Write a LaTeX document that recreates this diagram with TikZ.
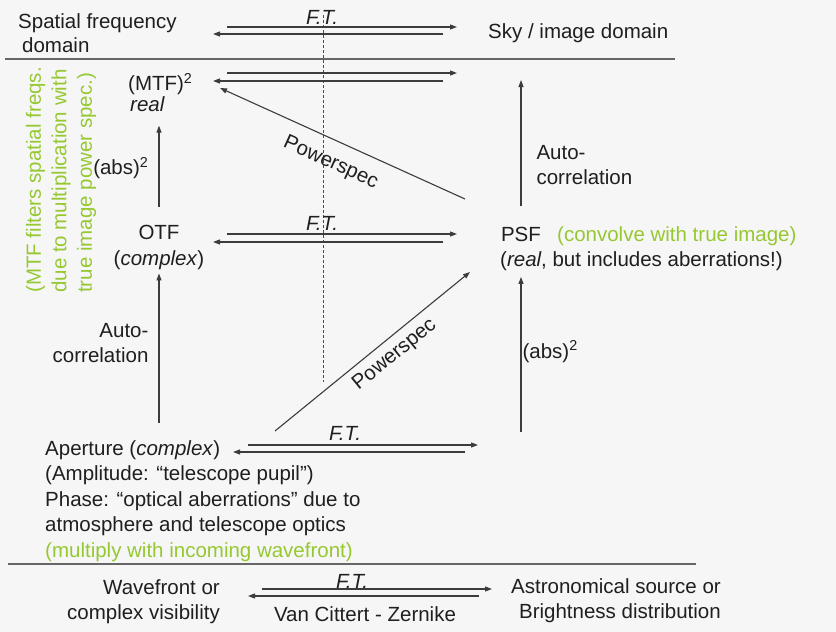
\documentclass[tikz,border=0pt]{standalone}
\usepackage{fontspec}
\setmainfont{Liberation Sans}
\usetikzlibrary{arrows.meta}
\definecolor{bgcol}{RGB}{246,246,246}
\definecolor{lncol}{RGB}{60,60,60}
\definecolor{grn}{RGB}{150,200,50}
\tikzset{
 txt/.style={inner sep=0pt, font=\fontsize{20.5}{25.5}\selectfont, text=black!88},
 ar/.style={-{Triangle[length=7pt,width=5pt]}, draw=lncol, line width=1.1pt},
 arl/.style={ar, {Triangle[length=7pt,width=5pt]}-},
 sep/.style={draw=black!60, line width=1.4pt},
}
\begin{document}
\begin{tikzpicture}[x=1pt,y=-1pt]
 \fill[bgcol] (0,0) rectangle (836,632);
 \useasboundingbox (0,0) rectangle (836,632);

 \draw[sep] (5,59) -- (675,59);
 \draw[sep] (8,564) -- (696,564);
 \draw[black!70, dash pattern=on 3pt off 2pt, line width=0.8pt] (323,15) -- (323,382);

 \node[txt, anchor=north west, align=left] (freq) at (18,13) {Spatial frequency\\[-1pt]\hspace*{4pt}domain};
 \node[txt, anchor=base west] (sky) at (488,38) {Sky / image domain};
 \node[txt, anchor=base] (ft1) at (322,24) {\textit{F.T.}};

 \node[txt, anchor=north west, align=left] (mtf) at (128,73) {(MTF)\textsuperscript{2}\\[-5pt]\hspace*{2pt}\textit{real}};
 \node[txt, anchor=north, align=center] (otf) at (159,225) {OTF\\(\textit{complex})};
 \node[txt, anchor=base] (ft2) at (322,230) {\textit{F.T.}};
 \node[txt, anchor=base] (psf) at (521,241) {PSF};
 \node[txt, anchor=base west, text=grn] (conv) at (557,241) {(convolve with true image)};
 \node[txt, anchor=base west] (psfreal) at (500,266.5) {(\textit{real}, but includes aberrations!)};
 \node[txt, text=grn, rotate=90, align=left] (mtfnote) at (61,180) {(MTF filters spatial freqs.\\due to multiplication with\\true image power spec.)};

 \node[txt, anchor=north west, align=left] (aper) at (45,440) {Aperture (\textit{complex})\\(Amplitude: “telescope pupil”)\\Phase: “optical aberrations” due to\\atmosphere and telescope optics\\\textcolor{grn}{(multiply with incoming wavefront)}};
 \node[txt, anchor=base] (ft3) at (345,440) {\textit{F.T.}};

 \node[txt, anchor=north east, align=right] (wave) at (220,579) {Wavefront or\\complex visibility};
 \node[txt, anchor=north east, align=right] (astro) at (721,578) {Astronomical source or\\Brightness distribution};
 \node[txt, anchor=base] (ft4) at (352,588) {\textit{F.T.}};
 \node[txt, anchor=base] (vcz) at (365,621) {Van Cittert - Zernike};

 \coordinate (t1) at (227,27);  \coordinate (t2) at (457,27);
 \coordinate (t3) at (443,34);  \coordinate (t4) at (213,34);
 \coordinate (m1) at (227,73);  \coordinate (m2) at (457,73);
 \coordinate (m3) at (443,81);  \coordinate (m4) at (213,81);
 \coordinate (o1) at (227,234); \coordinate (o2) at (457,234);
 \coordinate (o3) at (443,242); \coordinate (o4) at (213,242);
 \coordinate (a1) at (248,445); \coordinate (a2) at (478,445);
 \coordinate (a3) at (465,452); \coordinate (a4) at (233,452);
 \coordinate (w1) at (262,589); \coordinate (w2) at (492,589);
 \coordinate (w3) at (479,596); \coordinate (w4) at (248,596);
 \coordinate (pw1a) at (220,88);  \coordinate (pw1b) at (465,199);
 \coordinate (pw2a) at (275,431); \coordinate (pw2b) at (470,272);
 \coordinate (skyin) at (521,80);
 \coordinate (psfin) at (521,432);

 \draw[ar] (t1) -- (t2);  \draw[ar] (t3) -- (t4);
 \draw[ar] (m1) -- (m2);  \draw[ar] (m3) -- (m4);
 \draw[ar] (o1) -- (o2);  \draw[ar] (o3) -- (o4);
 \draw[ar] (a1) -- (a2);  \draw[ar] (a3) -- (a4);
 \draw[ar] (w1) -- (w2);  \draw[ar] (w3) -- (w4);

 \draw[ar, shorten <=18pt, shorten >=14pt] (otf.north) -- (otf.north |- mtf.south)
   node[txt, midway, left=10pt] {(abs)\textsuperscript{2}};
 \draw[ar, shorten <=17pt, shorten >=4pt] (otf.south |- aper.north) -- (otf.south)
   node[txt, pos=0.57, left=10pt, align=right] {Auto-\\correlation};
 \draw[ar, shorten <=20pt] (psf.north) -- (skyin)
   node[txt, pos=0.42, right=15pt, align=left] {Auto-\\correlation};
 \draw[ar, shorten >=6pt] (psfin) -- (psfin |- psfreal.south)
   node[txt, midway, right=1pt] {(abs)\textsuperscript{2}};

 \draw[arl] (pw1a) -- (pw1b) node[txt, sloped, below=13pt, pos=0.49] {Powerspec};
 \draw[ar] (pw2a) -- (pw2b) node[txt, sloped, below=7pt, pos=0.56] {Powerspec};
\end{tikzpicture}
\end{document}
